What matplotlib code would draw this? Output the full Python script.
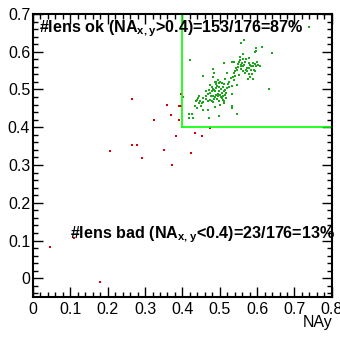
import matplotlib
matplotlib.use("Agg")
import matplotlib.pyplot as plt
from matplotlib.ticker import MultipleLocator

plt.rcParams['font.family'] = ['Liberation Sans', 'DejaVu Sans']
plt.rcParams['mathtext.fontset'] = 'custom'
plt.rcParams['mathtext.rm'] = 'Liberation Sans:bold'
plt.rcParams['mathtext.bf'] = 'Liberation Sans:bold'

# --- lenses with NA > 0.4 (ok) ---
ok_x = [0.739, 0.556, 0.566, 0.613, 0.598, 0.596, 0.594, 0.640, 0.561, 0.420,
        0.511, 0.532, 0.537,
        0.552, 0.549, 0.556, 0.558, 0.563, 0.567, 0.570, 0.579, 0.577, 0.581,
        0.588, 0.591, 0.597, 0.600, 0.595, 0.607, 0.563, 0.570, 0.573, 0.584,
        0.586, 0.581, 0.576, 0.588, 0.541, 0.539, 0.536, 0.552, 0.557, 0.545,
        0.481, 0.456, 0.485, 0.481, 0.491, 0.496, 0.500, 0.505, 0.474, 0.478,
        0.485, 0.491, 0.499, 0.509, 0.514, 0.525, 0.532, 0.524, 0.534, 0.538,
        0.545,
        0.472, 0.475, 0.483, 0.490, 0.496, 0.502, 0.509, 0.514, 0.518, 0.516,
        0.508, 0.499, 0.493, 0.484, 0.474, 0.469, 0.463, 0.456, 0.445, 0.442,
        0.440, 0.447, 0.452, 0.450, 0.434, 0.438, 0.456, 0.469, 0.483, 0.487,
        0.500, 0.511, 0.532, 0.532, 0.545, 0.499, 0.472, 0.427, 0.418, 0.417,
        0.429, 0.402, 0.632,
        0.478, 0.482, 0.488, 0.493, 0.497, 0.503, 0.506, 0.511, 0.476, 0.468,
        0.486, 0.494, 0.500, 0.505, 0.512, 0.479, 0.462, 0.456, 0.444, 0.437,
        0.491, 0.486, 0.498, 0.511, 0.520,
        0.553, 0.560, 0.565, 0.572, 0.578, 0.584, 0.590, 0.548, 0.543, 0.567,
        0.578, 0.595, 0.603, 0.555, 0.561, 0.530, 0.522, 0.540, 0.520, 0.515,
        0.462]
ok_y = [0.665, 0.624, 0.631, 0.613, 0.609, 0.603, 0.599, 0.597, 0.594, 0.579,
        0.569, 0.573, 0.573,
        0.573, 0.568, 0.564, 0.563, 0.561, 0.574, 0.580, 0.583, 0.570, 0.565,
        0.561, 0.552, 0.561, 0.572, 0.568, 0.561, 0.549, 0.551, 0.548, 0.551,
        0.542, 0.533, 0.528, 0.529, 0.549, 0.543, 0.533, 0.539, 0.554, 0.552,
        0.554, 0.536, 0.543, 0.533, 0.521, 0.526, 0.521, 0.517, 0.513, 0.506,
        0.499, 0.504, 0.506, 0.506, 0.499, 0.521, 0.510, 0.506, 0.488, 0.524,
        0.512,
        0.498, 0.491, 0.484, 0.486, 0.482, 0.480, 0.482, 0.486, 0.491, 0.477,
        0.473, 0.469, 0.475, 0.475, 0.473, 0.470, 0.482, 0.477, 0.484, 0.477,
        0.473, 0.469, 0.464, 0.457, 0.457, 0.451, 0.447, 0.447, 0.466, 0.454,
        0.460, 0.463, 0.456, 0.451, 0.436, 0.429, 0.425, 0.436, 0.436, 0.425,
        0.425, 0.479, 0.501,
        0.495, 0.502, 0.497, 0.508, 0.495, 0.500, 0.490, 0.495, 0.484, 0.488,
        0.479, 0.488, 0.486, 0.478, 0.470, 0.470, 0.476, 0.468, 0.463, 0.470,
        0.514, 0.520, 0.516, 0.514, 0.503,
        0.578, 0.570, 0.566, 0.558, 0.556, 0.562, 0.570, 0.560, 0.556, 0.545,
        0.540, 0.548, 0.565, 0.586, 0.580, 0.530, 0.515, 0.535, 0.545, 0.528,
        0.495]

# --- lenses with NA < 0.4 (bad) ---
bad_x = [0.266, 0.359, 0.396, 0.392, 0.397, 0.369, 0.325, 0.392, 0.384, 0.265,
         0.278, 0.206, 0.352, 0.292, 0.371, 0.475, 0.433, 0.453, 0.423, 0.046,
         0.110, 0.179, 0.397]
bad_y = [0.475, 0.459, 0.489, 0.455, 0.455, 0.432, 0.419, 0.420, 0.378, 0.352,
         0.354, 0.336, 0.341, 0.318, 0.301, 0.397, 0.385, 0.378, 0.331, 0.082,
         0.106, -0.011, 0.487]

cut = 0.4
n_ok, n_bad = len(ok_x), len(bad_x)
n_all = n_ok + n_bad


def fmt(v, pos):
    if abs(v) < 1e-9:
        return "0"
    return f"{v:.1f}"


fig = plt.figure(figsize=(3.4, 3.38), dpi=100)
ax = fig.add_axes([0.097, 0.122, 0.879, 0.8366])

ax.plot(ok_x, ok_y, 's', color='#1ea51e', markersize=2.1, markeredgewidth=0)
ax.plot(bad_x, bad_y, 's', color='#dd0000', markersize=2.1, markeredgewidth=0)

# cut lines
ax.plot([cut, cut], [cut, 0.7], color='#00ff00', linewidth=1.2)
ax.plot([cut, 0.8], [cut, cut], color='#00ff00', linewidth=1.2)

ax.set_xlim(0, 0.8)
ax.set_ylim(-0.049, 0.7)

ax.xaxis.set_major_locator(MultipleLocator(0.1))
ax.xaxis.set_minor_locator(MultipleLocator(0.02))
ax.yaxis.set_major_locator(MultipleLocator(0.1))
ax.yaxis.set_minor_locator(MultipleLocator(0.02))
ax.xaxis.set_major_formatter(fmt)
ax.yaxis.set_major_formatter(fmt)

ax.tick_params(which='both', direction='in', top=True, right=True, width=1, labelsize=11.5)
ax.tick_params(which='major', length=7)
ax.tick_params(which='minor', length=3.5)
ax.tick_params(axis='y', pad=2)
ax.tick_params(axis='x', pad=4)
for s in ax.spines.values():
    s.set_linewidth(1.5)

ax.text(0.017, 0.6525,
        r"#lens ok (NA$_{\mathregular{x,y}}$>0.4)=%d/%d=%d%%" % (n_ok, n_all, round(100 * n_ok / n_all)),
        fontsize=11.6, fontweight='bold', va='baseline', ha='left')
ax.text(0.099, 0.105,
        r"#lens bad (NA$_{\mathregular{x,y}}$<0.4)=%d/%d=%d%%" % (n_bad, n_all, round(100 * n_bad / n_all)),
        fontsize=11.6, fontweight='bold', va='baseline', ha='left', clip_on=False)

fig.text(332 / 340, 1 - 322 / 338, "NAy", fontsize=11.5, ha='right', va='center')

fig.savefig("out.png", dpi=100)
